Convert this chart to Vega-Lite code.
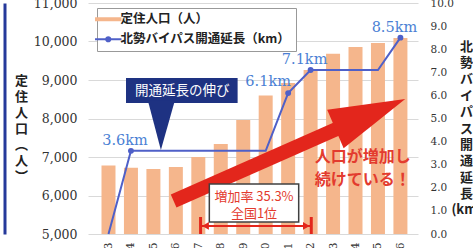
{
  "$schema": "https://vega.github.io/schema/vega-lite/v6.json",
  "width": 330,
  "height": 231,
  "autosize": {"type": "none"},
  "padding": {"left": 88, "top": 3, "right": 55, "bottom": 14},
  "background": "white",
  "config": {"view": {"stroke": null}, "font": "Noto Sans CJK JP"},
  "data": {"values": [
    {"i": 0, "year": "H13", "pop": 6780, "km": 0},
    {"i": 1, "year": "H14", "pop": 6720, "km": 3.6, "lbl": "3.6km"},
    {"i": 2, "year": "H15", "pop": 6690, "km": 3.6},
    {"i": 3, "year": "H16", "pop": 6740, "km": 3.6},
    {"i": 4, "year": "H17", "pop": 7000, "km": 3.6},
    {"i": 5, "year": "H18", "pop": 7340, "km": 3.6},
    {"i": 6, "year": "H19", "pop": 7960, "km": 3.6},
    {"i": 7, "year": "H20", "pop": 8600, "km": 3.6},
    {"i": 8, "year": "H21", "pop": 8920, "km": 6.1, "lbl": "6.1km"},
    {"i": 9, "year": "H22", "pop": 9260, "km": 7.1, "lbl": "7.1km"},
    {"i": 10, "year": "H23", "pop": 9680, "km": 7.1},
    {"i": 11, "year": "H24", "pop": 9860, "km": 7.1},
    {"i": 12, "year": "H25", "pop": 9960, "km": 7.1},
    {"i": 13, "year": "H26", "pop": 10090, "km": 8.5, "lbl": "8.5km"}
  ]},
  "encoding": {
    "x": {
      "field": "i", "type": "quantitative",
      "scale": {"domain": [-0.69, 13.56], "nice": false, "zero": false},
      "axis": {
        "values": [0,1,2,3,4,5,6,7,8,9,10,11,12,13],
        "labelExpr": "['H13','H14','H15','H16','H17','H18','H19','H20','H21','H22','H23','H24','H25','H26'][datum.value]",
        "labelAngle": 270, "labelPadding": 8, "ticks": false, "domain": false, "grid": false,
        "title": null, "labelFont": "DejaVu Serif", "labelFontSize": 11, "labelColor": "#333",
        "labelFlush": false, "labelOverlap": false
      }
    }
  },
  "layer": [
    {
      "mark": {"type": "bar", "size": 14},
      "encoding": {
        "y": {
          "field": "pop", "type": "quantitative",
          "scale": {"domain": [5000, 11000], "nice": false, "zero": false},
          "axis": {
            "orient": "left", "values": [5000,6000,7000,8000,9000,10000,11000], "format": ",d",
            "labelFont": "DejaVu Serif", "labelFontSize": 12.5, "labelColor": "#333", "labelPadding": 11,
            "ticks": false, "domain": false, "grid": true, "gridColor": "#d9d9d9", "gridWidth": 1,
            "labelFlush": false, "labelOverlap": false,
            "title": ["定","住","人","口","︵","人","︶"],
            "titleAngle": 0, "titleX": -67, "titleY": 71, "titleAlign": "center", "titleBaseline": "top",
            "titleFont": "Noto Sans CJK JP", "titleFontSize": 13, "titleFontWeight": "bold",
            "titleLineHeight": 16, "titleColor": "#222"
          }
        },
        "y2": {"datum": 5000},
        "color": {
          "datum": "定住人口（人）", "type": "nominal",
          "scale": {"domain": ["定住人口（人）", "北勢バイパス開通延長（km）"], "range": ["#f5b68c", "#4f60c8"]},
          "legend": {
            "orient": "none", "legendX": 9, "legendY": 5, "direction": "vertical", "title": null,
            "fillColor": "white", "strokeColor": "#999", "padding": 5, "rowPadding": 5,
            "labelFont": "Noto Sans CJK JP", "labelFontSize": 12.5, "labelFontWeight": "bold", "labelColor": "#222",
            "labelLimit": 400,
            "symbolType": "stroke", "symbolSize": 700, "symbolStrokeWidth": 4, "labelOffset": 6,
            "encode": {"symbols": {"update": {
              "shape": {"signal": "datum.value === '定住人口（人）' ? 'stroke' : 'M-1,0L1,0M-0.16,0A0.16,0.16,0,1,0,0.16,0A0.16,0.16,0,1,0,-0.16,0Z'"},
              "strokeWidth": {"signal": "datum.value === '定住人口（人）' ? 4 : 2"},
              "fill": {"signal": "datum.value === '定住人口（人）' ? 'transparent' : '#4f60c8'"},
              "stroke": {"signal": "datum.value === '定住人口（人）' ? '#f5b68c' : '#4f60c8'"},
              "opacity": {"value": 1}
            }}}
          }
        }
      }
    },
    {
      "mark": {"type": "line", "strokeWidth": 2},
      "encoding": {
        "y": {
          "field": "km", "type": "quantitative",
          "scale": {"domain": [0, 10], "nice": false, "zero": false},
          "axis": {
            "orient": "right", "values": [0,1,2,3,4,5,6,7,8,9,10], "format": ".1f",
            "labelFont": "DejaVu Serif", "labelFontSize": 10.5, "labelColor": "#333", "labelPadding": 12,
            "ticks": false, "domain": false, "grid": false, "labelFlush": false, "labelOverlap": false,
            "title": ["北","勢","バ","イ","パ","ス","開","通","延","長","(km)"],
            "titleAngle": 0, "titleX": 48, "titleY": 37, "titleAlign": "center", "titleBaseline": "top",
            "titleFont": "Noto Sans CJK JP", "titleFontSize": 13, "titleFontWeight": "bold",
            "titleLineHeight": 16.4, "titleColor": "#222"
          }
        },
        "color": {"datum": "北勢バイパス開通延長（km）", "type": "nominal"}
      }
    },
    {
      "transform": [{"filter": "isValid(datum.lbl)"}],
      "mark": {"type": "point", "filled": true, "size": 35, "opacity": 1, "color": "#4f60c8"},
      "encoding": {"y": {"field": "km", "type": "quantitative", "scale": {"domain": [0, 10], "nice": false, "zero": false}, "axis": null}}
    },
    {
      "transform": [{"filter": "isValid(datum.lbl) && datum.lbl != '6.1km'"}],
      "mark": {"type": "text", "dx": -6, "dy": -10, "font": "DejaVu Serif", "fontSize": 14.5, "color": "#4a7fd4"},
      "encoding": {
        "y": {"field": "km", "type": "quantitative", "scale": {"domain": [0, 10], "nice": false, "zero": false}, "axis": null},
        "text": {"field": "lbl"}
      }
    },
    {
      "transform": [{"filter": "datum.lbl == '6.1km'"}],
      "mark": {"type": "text", "dx": -20, "dy": -11, "font": "DejaVu Serif", "fontSize": 14.5, "color": "#4a7fd4"},
      "encoding": {
        "y": {"field": "km", "type": "quantitative", "scale": {"domain": [0, 10], "nice": false, "zero": false}, "axis": null},
        "text": {"field": "lbl"}
      }
    },
    {
      "data": {"values": [{"i": 0.78, "i2": 5.75, "v": 9052, "v2": 8403}]},
      "mark": {"type": "rect", "color": "#1e3282"},
      "encoding": {
        "x2": {"field": "i2"},
        "y": {"field": "v", "type": "quantitative", "scale": {"domain": [5000, 11000], "nice": false, "zero": false},
              "axis": {"orient": "left", "offset": 83.5, "domainColor": "#25399a", "domainWidth": 3, "labels": false, "ticks": false, "grid": false, "title": null}},
        "y2": {"field": "v2"}
      }
    },
    {
      "data": {"values": [{"i": 2.29, "v": 7805}]},
      "mark": {"type": "point", "filled": true, "opacity": 1, "color": "#1e3282", "size": 2304, "shape": "M-0.5,-1.05L0.62,-1.05L0.04,1Z"},
      "encoding": {"y": {"field": "v", "type": "quantitative", "scale": {"domain": [5000, 11000], "nice": false, "zero": false}, "axis": null}}
    },
    {
      "data": {"values": [{"i": 3.28, "v": 8714, "t": "開通延長の伸び"}]},
      "mark": {"type": "text", "color": "white", "fontSize": 13.5, "font": "Noto Sans CJK JP"},
      "encoding": {
        "y": {"field": "v", "type": "quantitative", "scale": {"domain": [5000, 11000], "nice": false, "zero": false}, "axis": null},
        "text": {"field": "t"}
      }
    },
    {
      "data": {"values": [{"i": 2.90, "v": 5857}, {"i": 10.41, "v": 7792}]},
      "mark": {"type": "line", "color": "#e3261c", "strokeWidth": 14, "strokeCap": "butt"},
      "encoding": {"y": {"field": "v", "type": "quantitative", "scale": {"domain": [5000, 11000], "nice": false, "zero": false}, "axis": null}}
    },
    {
      "data": {"values": [{"i": 11.66, "v": 8117}]},
      "mark": {"type": "point", "filled": true, "opacity": 1, "color": "#e3261c", "size": 5776, "angle": 336.8, "shape": "M-1,-0.55L1,0L-1,0.55Z"},
      "encoding": {"y": {"field": "v", "type": "quantitative", "scale": {"domain": [5000, 11000], "nice": false, "zero": false}, "axis": null}}
    },
    {
      "data": {"values": [{"i": 11.32, "v": 7000, "t": "人口が増加し"}, {"i": 11.32, "v": 6403, "t": "続けている！"}]},
      "mark": {"type": "text", "color": "#e33b2e", "fontSize": 16, "fontWeight": "bold", "font": "Noto Sans CJK JP"},
      "encoding": {
        "y": {"field": "v", "type": "quantitative", "scale": {"domain": [5000, 11000], "nice": false, "zero": false}, "axis": null},
        "text": {"field": "t"}
      }
    },
    {
      "data": {"values": [{"i": 4.49, "i2": 8.47, "v": 6299, "v2": 5312}]},
      "mark": {"type": "rect", "fill": "white", "stroke": "#404040", "strokeWidth": 1.5},
      "encoding": {
        "x2": {"field": "i2"},
        "y": {"field": "v", "type": "quantitative", "scale": {"domain": [5000, 11000], "nice": false, "zero": false}, "axis": null},
        "y2": {"field": "v2"}
      }
    },
    {
      "data": {"values": [{"i": 6.48, "v": 5961, "t": "増加率 35.3%"}, {"i": 6.48, "v": 5519, "t": "全国1位"}]},
      "mark": {"type": "text", "color": "#e33b2e", "fontSize": 13, "font": "Noto Sans CJK JP"},
      "encoding": {
        "y": {"field": "v", "type": "quantitative", "scale": {"domain": [5000, 11000], "nice": false, "zero": false}, "axis": null},
        "text": {"field": "t"}
      }
    },
    {
      "data": {"values": [{"i": 4.10, "i2": 9.03, "v": 5208}]},
      "mark": {"type": "rule", "color": "#e3261c", "strokeWidth": 2},
      "encoding": {
        "x2": {"field": "i2"},
        "y": {"field": "v", "type": "quantitative", "scale": {"domain": [5000, 11000], "nice": false, "zero": false}, "axis": null}
      }
    },
    {
      "data": {"values": [{"i": 4.10, "v": 5442, "v2": 5000}, {"i": 9.03, "v": 5442, "v2": 5000}]},
      "mark": {"type": "rule", "color": "#e3261c", "strokeWidth": 3},
      "encoding": {
        "y": {"field": "v", "type": "quantitative", "scale": {"domain": [5000, 11000], "nice": false, "zero": false}, "axis": null},
        "y2": {"field": "v2"}
      }
    },
    {
      "data": {"values": [{"i": 4.32, "v": 5208, "s": "triangle-left"}, {"i": 8.81, "v": 5208, "s": "triangle-right"}]},
      "mark": {"type": "point", "filled": true, "opacity": 1, "color": "#e3261c", "size": 60},
      "encoding": {
        "y": {"field": "v", "type": "quantitative", "scale": {"domain": [5000, 11000], "nice": false, "zero": false}, "axis": null},
        "shape": {"field": "s", "type": "nominal", "scale": null, "legend": null}
      }
    }
  ],
  "resolve": {"scale": {"y": "independent"}}
}
